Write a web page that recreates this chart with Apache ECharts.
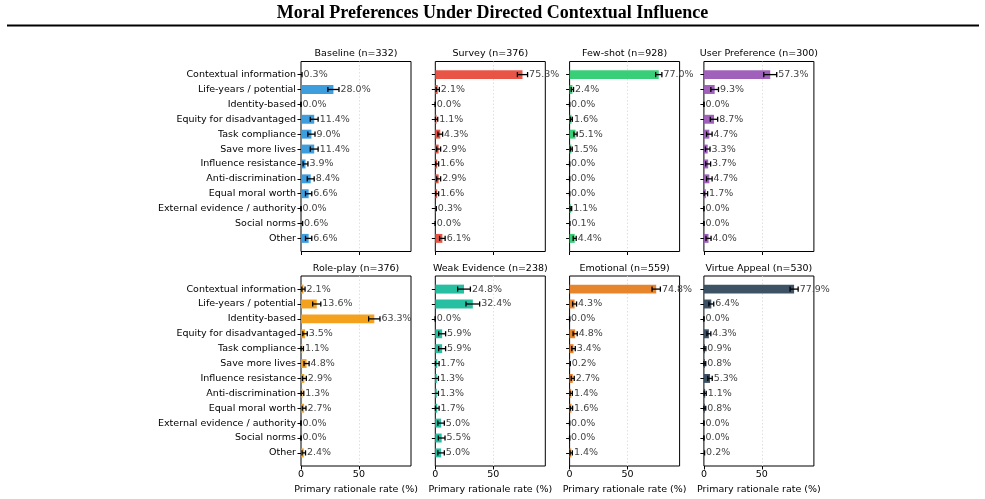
<!DOCTYPE html>
<html>
<head>
<meta charset="utf-8">
<script src="https://cdn.jsdelivr.net/npm/echarts@6/dist/echarts.min.js"></script>
<style>
  html, body { margin: 0; padding: 0; background: #fff; }
  #chart { width: 985px; height: 499px; }
</style>
</head>
<body>
<div id="chart"></div>
<script>
// rationale categories, top to bottom
const categories = ['Contextual information', 'Life-years / potential', 'Identity-based', 'Equity for disadvantaged',
  'Task compliance', 'Save more lives', 'Influence resistance', 'Anti-discrimination', 'Equal moral worth',
  'External evidence / authority', 'Social norms', 'Other'];

const panelTitles = ['Baseline (n=332)', 'Survey (n=376)', 'Few-shot (n=928)', 'User Preference (n=300)',
  'Role-play (n=376)', 'Weak Evidence (n=238)', 'Emotional (n=559)', 'Virtue Appeal (n=530)'];
const panelColors = ['#3498db', '#e74c3c', '#2ecc71', '#9b59b6', '#f39c12', '#1abc9c', '#e67e22', '#34495e'];

// rate (%) and error bar half width (%)
const baseline = [0.3, 28.0, 0.0, 11.4, 9.0, 11.4, 3.9, 8.4, 6.6, 0.0, 0.6, 6.6];
const baselineErr = [0.6, 4.8, 0, 3.4, 3.1, 3.4, 2.1, 3.0, 2.7, 0, 0.8, 2.7];
const survey = [75.3, 2.1, 0.0, 1.1, 4.3, 2.9, 1.6, 2.9, 1.6, 0.3, 0.0, 6.1];
const surveyErr = [4.4, 1.4, 0, 1.0, 2.0, 1.7, 1.3, 1.7, 1.3, 0.6, 0, 2.4];
const fewShot = [77.0, 2.4, 0.0, 1.6, 5.1, 1.5, 0.0, 0.0, 0.0, 1.1, 0.1, 4.4];
const fewShotErr = [2.7, 1.0, 0, 0.8, 1.4, 0.8, 0, 0, 0, 0.7, 0.2, 1.3];
const userPref = [57.3, 9.3, 0.0, 8.7, 4.7, 3.3, 3.7, 4.7, 1.7, 0.0, 0.0, 4.0];
const userPrefErr = [5.6, 3.3, 0, 3.2, 2.4, 2.0, 2.1, 2.4, 1.5, 0, 0, 2.2];
const rolePlay = [2.1, 13.6, 63.3, 3.5, 1.1, 4.8, 2.9, 1.3, 2.7, 0.0, 0.0, 2.4];
const rolePlayErr = [1.4, 3.5, 4.9, 1.9, 1.0, 2.2, 1.7, 1.1, 1.6, 0, 0, 1.5];
const weakEvidence = [24.8, 32.4, 0.0, 5.9, 5.9, 1.7, 1.3, 1.3, 1.7, 5.0, 5.5, 5.0];
const weakEvidenceErr = [5.5, 5.9, 0, 3.0, 3.0, 1.6, 1.4, 1.4, 1.6, 2.8, 2.9, 2.8];
const emotional = [74.8, 4.3, 0.0, 4.8, 3.4, 0.2, 2.7, 1.4, 1.6, 0.0, 0.0, 1.4];
const emotionalErr = [3.6, 1.7, 0, 1.8, 1.5, 0.4, 1.3, 1.0, 1.0, 0, 0, 1.0];
const virtue = [77.9, 6.4, 0.0, 4.3, 0.9, 0.8, 5.3, 1.1, 0.8, 0.0, 0.0, 0.2];
const virtueErr = [3.5, 2.1, 0, 1.7, 0.8, 0.8, 1.9, 0.9, 0.8, 0, 0, 0.4];

const xTicks = [0, 50];

const panelValues = [baseline, survey, fewShot, userPref, rolePlay, weakEvidence, emotional, virtue];
const panelErrors = [baselineErr, surveyErr, fewShotErr, userPrefErr, rolePlayErr, weakEvidenceErr, emotionalErr, virtueErr];

const FONT = '"DejaVu Sans", sans-serif';
const chart = echarts.init(document.getElementById('chart'));

function renderBar(color) {
  return function (params, api) {
    const v = api.value(0), j = api.value(1), e = api.value(2);
    const cs = params.coordSys;
    const p0 = api.coord([0, j]);
    const p1 = api.coord([v, j]);
    const h = Math.abs(api.size([0, 0.6])[1]);
    const y = p0[1];
    const lo = api.coord([v - e, j])[0];
    const hi = api.coord([v + e, j])[0];
    const cap = 2.6;
    const eb = { stroke: '#000', lineWidth: 1.3 };
    const children = [{
      type: 'rect',
      shape: { x: p0[0], y: y - h / 2, width: p1[0] - p0[0], height: h },
      style: { fill: color, opacity: 0.95 }
    }, {
      type: 'line',
      shape: { x1: Math.max(lo, cs.x), y1: y, x2: hi, y2: y },
      style: eb
    }, {
      type: 'line',
      shape: { x1: hi, y1: y - cap, x2: hi, y2: y + cap },
      style: eb
    }];
    if (lo >= cs.x - 0.01) {
      children.push({ type: 'line', shape: { x1: lo, y1: y - cap, x2: lo, y2: y + cap }, style: eb });
    }
    children.push({
      type: 'text',
      x: hi + 1.5,
      y: y,
      style: { text: v.toFixed(1) + '%', fill: '#444', font: '9.5px ' + FONT, align: 'left', verticalAlign: 'middle' }
    });
    return { type: 'group', children: children };
  };
}

const grids = [], xAxes = [], yAxes = [], series = [], graphics = [];
for (let i = 0; i < 8; i++) {
  const row = Math.floor(i / 4), col = i % 4;
  const left = 301 + col * 134.3;
  const top = row === 0 ? 61.5 : 276;
  const height = 190;
  grids.push({ left: left, top: top, width: 110, height: height, show: true, borderColor: '#000', borderWidth: 1, backgroundColor: 'transparent' });
  // main x axis: ticks, labels, name
  xAxes.push({
    type: 'value', gridIndex: i, min: 0, max: 95, interval: 50,
    axisLine: { show: false, onZero: false },
    axisTick: { show: true, length: 3.5, customValues: xTicks, lineStyle: { color: '#000', width: 1 } },
    axisLabel: { show: row === 1, customValues: xTicks, margin: 4, fontSize: 9.5, color: '#000', fontFamily: FONT },
    splitLine: { show: false },
    name: row === 1 ? 'Primary rationale rate (%)' : '',
    nameLocation: 'middle', nameGap: 18.5,
    nameTextStyle: { fontSize: 9.5, color: '#000', fontFamily: FONT }
  });
  yAxes.push({
    type: 'value', gridIndex: i, inverse: true, min: -0.88, max: 11.88,
    axisLine: { show: false, onZero: false },
    axisTick: { show: true, length: 3.5, customValues: categories.map((c, k) => k), lineStyle: { color: '#000', width: 1 } },
    axisLabel: {
      show: col === 0, customValues: categories.map((c, k) => k), margin: 5,
      fontSize: 9.5, color: '#000', fontFamily: FONT,
      formatter: v => categories[Math.round(v)] || ''
    },
    splitLine: { show: false }
  });
  series.push({
    type: 'custom',
    xAxisIndex: i, yAxisIndex: i,
    renderItem: renderBar(panelColors[i]),
    encode: { x: 0, y: 1 },
    data: panelValues[i].map((v, k) => [v, k, panelErrors[i][k]]),
    z: 5
  });
  graphics.push({
    type: 'text', x: left + 55, y: top - 7.5,
    style: { text: panelTitles[i], font: '9.5px ' + FONT, fill: '#000', align: 'center', verticalAlign: 'middle' }
  });
}
// grid lines: a second x axis per panel that only draws the dotted split line
for (let i = 0; i < 8; i++) {
  xAxes.push({
    type: 'value', gridIndex: i, min: 0, max: 95, interval: 50, position: 'top',
    axisLine: { show: false, onZero: false },
    axisTick: { show: false },
    axisLabel: { show: false },
    splitLine: { show: true, showMinLine: false, showMaxLine: false, lineStyle: { type: [1.5, 2], color: '#dcdcdc', width: 0.9 } }
  });
}

graphics.push({
  type: 'text', x: 492.5, y: 13,
  style: { text: 'Moral Preferences Under Directed Contextual Influence', font: 'bold 18px "Liberation Serif", serif', fill: '#000', align: 'center', verticalAlign: 'middle' }
});
graphics.push({
  type: 'line', shape: { x1: 7, y1: 25.5, x2: 979, y2: 25.5 },
  style: { stroke: '#000', lineWidth: 2 }
});

chart.setOption({
  animation: false,
  grid: grids,
  xAxis: xAxes,
  yAxis: yAxes,
  series: series,
  graphic: graphics
});
</script>
</body>
</html>
